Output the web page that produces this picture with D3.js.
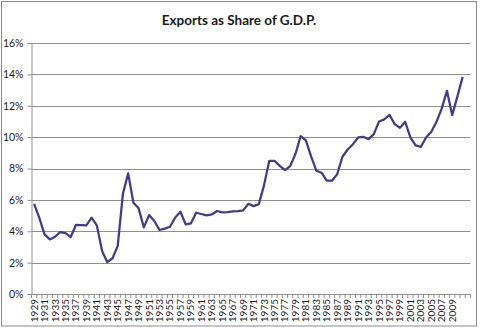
<!DOCTYPE html>
<html>
<head>
<meta charset="utf-8">
<script src="https://cdn.jsdelivr.net/npm/d3@7/dist/d3.min.js"></script>
<style>
  html, body { margin: 0; padding: 0; background: #fff; }
  svg { display: block; }
  text { font-family: Lato, "Open Sans", sans-serif; fill: #1a1a1a; }
</style>
</head>
<body>
<svg id="chart" width="480" height="328"></svg>
<script>
// Category axis: one slot per year, the last slot has no value yet.
const years = d3.range(1929, 2013);

// Exports as a share of GDP, percent, 1929-2011
const exportShare = [
  5.75, 4.85, 3.8, 3.48, 3.65, 3.95, 3.88, 3.63, 4.4, 4.39,
  4.37, 4.87, 4.37, 2.75, 2.03, 2.28, 3.07, 6.41, 7.69, 5.82,
  5.46, 4.25, 5.03, 4.65, 4.08, 4.17, 4.29, 4.88, 5.24, 4.44,
  4.5, 5.18, 5.1, 5.01, 5.07, 5.29, 5.2, 5.22, 5.27, 5.29,
  5.33, 5.75, 5.6, 5.73, 6.94, 8.49, 8.49, 8.17, 7.9, 8.15,
  8.92, 10.07, 9.79, 8.77, 7.86, 7.73, 7.22, 7.22, 7.64, 8.75,
  9.21, 9.55, 9.98, 10.02, 9.87, 10.19, 11.0, 11.13, 11.42, 10.83,
  10.59, 10.98, 9.98, 9.47, 9.38, 9.98, 10.34, 10.98, 11.83, 12.95,
  11.4, 12.6, 13.84
];

const yTicks = [0, 2, 4, 6, 8, 10, 12, 14, 16];
const xTickLabels = d3.range(1929, 2011, 2);

const svg = d3.select("#chart");
const plot = { left: 31.5, right: 470.5, top: 43, bottom: 294 };

// chart frame
svg.append("rect")
  .attr("x", 1.5).attr("y", 1.5)
  .attr("width", 475).attr("height", 324.5)
  .attr("fill", "#fff").attr("stroke", "#8a8a8a").attr("stroke-width", 1);

svg.append("text")
  .attr("x", 239).attr("y", 25)
  .attr("text-anchor", "middle")
  .style("font-size", "13.5px")
  .style("font-weight", "bold")
  .text("Exports as Share of G.D.P.");

const x = d3.scaleBand().domain(years).range([plot.left, plot.right]).padding(0);
const y = d3.scaleLinear().domain([0, 16]).range([plot.bottom, plot.top]);

// horizontal gridlines
svg.append("g")
  .selectAll("line")
  .data(yTicks.filter(d => d > 0))
  .join("line")
  .attr("x1", plot.left).attr("x2", plot.right)
  .attr("y1", d => Math.round(y(d)) + 0.5).attr("y2", d => Math.round(y(d)) + 0.5)
  .attr("stroke", "#8f8f8f").attr("stroke-width", 1);

// value axis
const yAxis = svg.append("g")
  .attr("transform", `translate(${plot.left},0)`)
  .call(d3.axisLeft(y).tickValues(yTicks).tickFormat(d => d + "%").tickSize(4).tickPadding(4));
yAxis.select(".domain").attr("stroke", "#8f8f8f");
yAxis.selectAll(".tick line").attr("stroke", "#8f8f8f");
yAxis.selectAll("text").style("font-size", "10.5px").attr("fill", "#1a1a1a");

// category axis line and tick marks between categories
const xg = svg.append("g");
xg.append("line")
  .attr("x1", plot.left).attr("x2", plot.right)
  .attr("y1", plot.bottom + 0.5).attr("y2", plot.bottom + 0.5)
  .attr("stroke", "#8f8f8f");
xg.selectAll("line.tk")
  .data(years.concat([null]))
  .join("line")
  .attr("class", "tk")
  .attr("x1", (d, i) => plot.left + i * x.bandwidth())
  .attr("x2", (d, i) => plot.left + i * x.bandwidth())
  .attr("y1", plot.bottom).attr("y2", plot.bottom + 4)
  .attr("stroke", "#8f8f8f");

xg.selectAll("text")
  .data(xTickLabels)
  .join("text")
  .attr("transform", d => `translate(${x(d) + x.bandwidth() / 2 + 3.5},${plot.bottom + 5}) rotate(-90)`)
  .attr("text-anchor", "end")
  .style("font-size", "10px")
  .text(d => d);

// series line
const line = d3.line()
  .x((d, i) => x(years[i]) + x.bandwidth() / 2)
  .y(d => y(d));

svg.append("path")
  .datum(exportShare)
  .attr("d", line)
  .attr("fill", "none")
  .attr("stroke", "#3f3d8a")
  .attr("stroke-width", 2.25)
  .attr("stroke-linejoin", "round");
</script>
</body>
</html>
